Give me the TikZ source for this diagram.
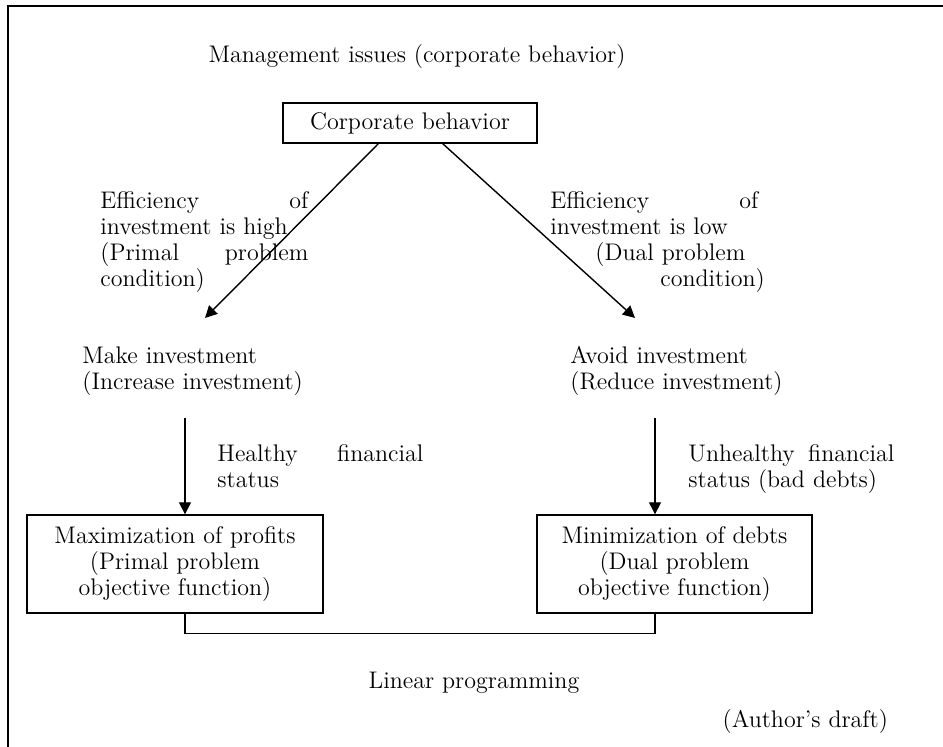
\documentclass[tikz,border=0pt]{standalone}
\usepackage{tikz}
\usetikzlibrary{arrows.meta}
\begin{document}
\begin{tikzpicture}[x=0.5pt,y=-0.5pt]
\tikzset{every node/.style={font=\fontsize{12}{13}\selectfont},
  box/.style={draw,line width=0.7pt,align=center,inner sep=0pt},
  lbl/.style={anchor=north west,inner sep=0pt,align=left,text width=104pt},
  arr/.style={-{Triangle[length=6pt,width=6pt]},line width=0.7pt}}
\useasboundingbox (0,0) rectangle (943,747);
% frame, open at right and bottom
\draw[line width=1pt] (8,747) -- (8,6) -- (943,6);
\node (mgmt) at (417,57) {Management issues (corporate behavior)};
\node[box,minimum width=127pt,minimum height=20pt] (corp) at (410,123) {Corporate behavior};
% branch labels
\node[lbl] (highlbl) at (100,191) {Efficiency\hfill of\\investment is high\\(Primal\hfill problem\\condition)};
\node[lbl] (lowlbl) at (550,191) {Efficiency\hfill of\\investment is low\\\hspace*{22.5pt}(Dual problem\\\hspace*{55pt}\mbox{condition)}};
\node[lbl,text width=120pt] (make) at (82,346) {Make investment\\(Increase investment)};
\node[lbl,text width=120pt] (avoid) at (570,346) {Avoid investment\\(Reduce investment)};
\node[lbl,text width=103pt] (healthy) at (217,444) {Healthy\hfill financial\\status};
\node[lbl,text width=103pt] (unhealthy) at (688,444) {Unhealthy\hfill financial\\status (bad debts)};
% objective boxes
\node[box,minimum width=148pt,minimum height=49pt] (maxbox) at (175,564) {Maximization of profits\\(Primal problem\\objective function)};
\node[box,minimum width=137.5pt,minimum height=49pt] (minbox) at (674.5,564) {Minimization of debts\\(Dual problem\\objective function)};
\node (lp) at (474,683) {Linear programming};
\node[anchor=east] (draft) at (895,722) {(Author's draft)};
% connectors
\coordinate (corpL) at (379,143);
\coordinate (corpR) at (442,143);
\coordinate (maketip) at (205,318);
\coordinate (avoidtip) at (635,318);
\coordinate (makeout) at (185,418);
\coordinate (avoidout) at (655,418);
\draw[arr] (corpL) -- (maketip);
\draw[arr] (corpR) -- (avoidtip);
\draw[arr] (makeout) -- (makeout |- maxbox.north);
\draw[arr] (avoidout) -- (avoidout |- minbox.north);
\draw[line width=0.7pt] (maxbox.south -| makeout) -- ++(0,20) -| (minbox.south -| avoidout);
\end{tikzpicture}
\end{document}
